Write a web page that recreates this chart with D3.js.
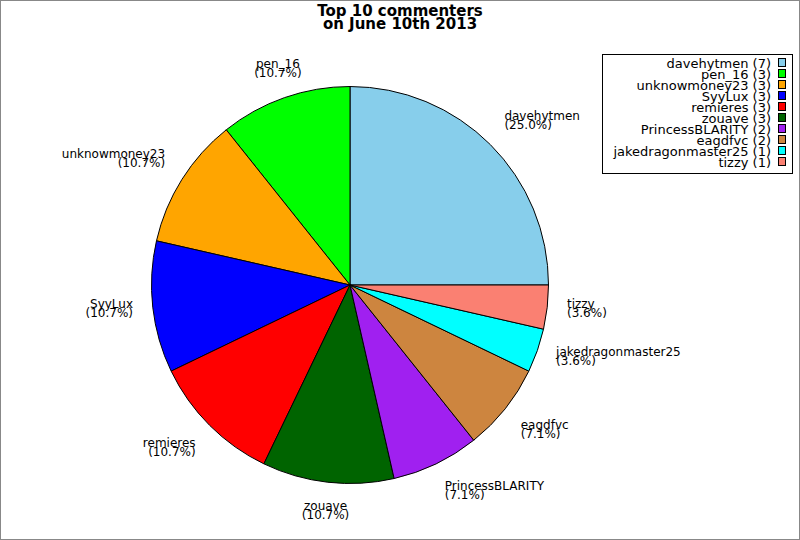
<!DOCTYPE html>
<html lang="en">
  <head>
    <meta charset="utf-8">
    <title>Top 10 commenters</title>
    <script src="https://d3js.org/d3.v7.js"></script>
    <style>
      body { margin: 0; }
      text { font-family: "DejaVu Sans", sans-serif; fill: #000; }
    </style>
  </head>
  <body>
    <script>

  // width and height
  var w = 800;
  var h = 540;

  // data
  var names = ["davehytmen", "pen_16", "unknowmoney23", "SyyLux", "remieres",
               "zouave", "PrincessBLARITY", "eagdfvc", "jakedragonmaster25", "tizzy"];
  var counts = [7, 3, 3, 3, 3, 3, 2, 2, 1, 1];
  var sliceColors = ["#87CEEB", "#00FF00", "#FFA500", "#0000FF", "#FF0000",
                     "#006400", "#A020F0", "#CD853F", "#00FFFF", "#FA8072"];
  var titleLines = ["Top 10 commenters", "on June 10th 2013"];

  var total = d3.sum(counts);
  var dataset = names.map((n, i) => ({ name: n, count: counts[i] }));

  // pie geometry
  var cx = 350, cy = 285, r = 198.5;
  var labelR = r * 1.1;

  // start at 3 o'clock and go counterclockwise
  var pie = d3.pie()
    .value(d => d.count)
    .sort(null)
    .startAngle(Math.PI / 2)
    .endAngle(Math.PI / 2 - 2 * Math.PI);

  var arc = d3.arc().innerRadius(0).outerRadius(r);

  var color = d3.scaleOrdinal().domain(names).range(sliceColors);

  var svg = d3.select("body")
    .append("svg")
    .attr("width", w)
    .attr("height", h);

  svg.append("rect")
    .attr("x", 0.5).attr("y", 0.5)
    .attr("width", w - 1).attr("height", h - 1)
    .attr("fill", "#fff")
    .attr("stroke", "#888");

  // title
  svg.append("text")
    .attr("x", 400)
    .attr("y", 15.5)
    .attr("text-anchor", "middle")
    .style("font-size", "15px")
    .style("font-weight", "bold")
    .selectAll("tspan")
    .data(titleLines)
    .enter()
    .append("tspan")
    .attr("x", 400)
    .attr("dy", (d, i) => i === 0 ? 0 : 13.8)
    .text(d => d);

  var arcs = pie(dataset);

  var g = svg.append("g").attr("transform", "translate(" + cx + "," + cy + ")");

  g.selectAll("path")
    .data(arcs)
    .enter()
    .append("path")
    .attr("d", arc)
    .attr("fill", d => color(d.data.name))
    .attr("stroke", "#000")
    .attr("stroke-width", 1)
    .attr("stroke-linejoin", "round");

  // label anchor by compass direction of the slice middle
  var hAlign = ["start", "start", "middle", "end", "end", "end", "middle", "start"];
  var firstBase = [-1.5, -10.5, -10.5, -10.5, -1.5, 8, 8, 8];

  var labels = g.selectAll("text.label")
    .data(arcs)
    .enter()
    .append("text")
    .attr("class", "label")
    .style("font-size", "12px")
    .each(function(d) {
      var a = (d.startAngle + d.endAngle) / 2;
      var x = Math.sin(a) * labelR;
      var y = -Math.cos(a) * labelR;
      var deg = ((90 - a * 180 / Math.PI) % 360 + 360) % 360;
      var oct = Math.round(deg / 45) % 8;
      var pct = (d.data.count / total * 100).toFixed(1) + "%";
      var t = d3.select(this).attr("text-anchor", hAlign[oct]);
      t.append("tspan").attr("x", x).attr("y", y + firstBase[oct]).text(d.data.name);
      t.append("tspan").attr("x", x).attr("y", y + firstBase[oct] + 9).text("(" + pct + ")");
    });

  // legend
  var legend = svg.append("g");
  legend.append("rect")
    .attr("x", 602.5).attr("y", 54.5)
    .attr("width", 190).attr("height", 119)
    .attr("fill", "#fff")
    .attr("stroke", "#000");

  var rows = legend.selectAll("g.row")
    .data(dataset)
    .enter()
    .append("g")
    .attr("class", "row")
    .attr("transform", (d, i) => "translate(0," + (68 + i * 11) + ")");

  rows.append("text")
    .attr("x", 771)
    .attr("y", 0)
    .attr("text-anchor", "end")
    .style("font-size", "13px")
    .text(d => d.name + " (" + d.count + ")");

  rows.append("rect")
    .attr("x", 778.5)
    .attr("y", -9.5)
    .attr("width", 7)
    .attr("height", 8)
    .attr("fill", d => color(d.name))
    .attr("stroke", "#000");

    </script>
  </body>
</html>
